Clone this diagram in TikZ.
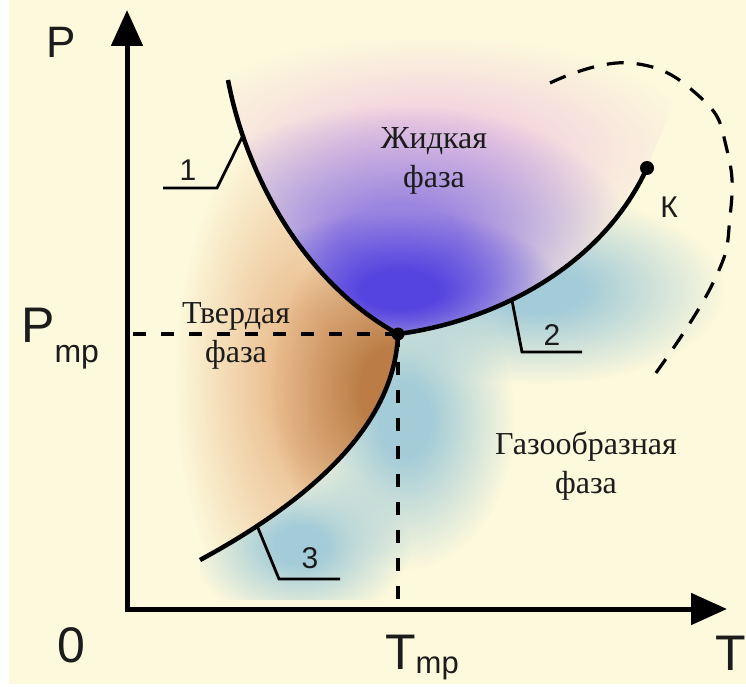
\documentclass[tikz,border=0pt]{standalone}
\usepackage{fontspec}
\setmainfont{Liberation Serif}
\setsansfont{Liberation Sans}
\usetikzlibrary{arrows.meta,fadings,positioning}

\definecolor{bgcream}{HTML}{FDF9DC}
\definecolor{liqpink}{HTML}{F2CFE0}
\definecolor{liqviolet}{HTML}{9A86E0}
\definecolor{liqblue}{HTML}{5544E0}
\definecolor{soltan}{HTML}{EBBE90}
\definecolor{solbrown}{HTML}{BB7C45}
\definecolor{gasblue}{HTML}{A4CCD8}
\definecolor{inkgray}{HTML}{1C1C1C}

\pgfdeclareradialshading{softblobshade}{\pgfpointorigin}{%
    color(0bp)=(pgftransparent!0); color(6bp)=(pgftransparent!0);
    color(25bp)=(pgftransparent!100); color(50bp)=(pgftransparent!100)}
\pgfdeclarefading{softblob}{\pgfuseshading{softblobshade}}

\begin{document}
\begin{tikzpicture}[x=1pt,y=-1pt,
    axis/.style={line width=5pt,{Triangle[length=36pt,width=31pt]}-{Triangle[length=36pt,width=31pt]}},
    curve/.style={line width=4.5pt},
    guide/.style={line width=3.5pt,dash pattern=on 13pt off 15pt},
    crit/.style={line width=3.2pt,dash pattern=on 17pt off 13pt},
    leader/.style={line width=2.8pt},
    blob/.style={path fading=softblob},
    axlbl/.style={font=\sffamily\fontsize{50}{50}\selectfont,text=inkgray,inner sep=0pt,anchor=base},
    num/.style={font=\sffamily\fontsize{30}{30}\selectfont,text=inkgray,inner sep=0pt,anchor=base},
    phase/.style={font=\fontsize{32}{39}\selectfont,text=inkgray,align=center,inner sep=0pt,anchor=base}]
    \useasboundingbox (0,0) rectangle (746,687);
    \fill[white] (0,0) rectangle (746,687);
    \fill[bgcream] (9,0) rectangle (746,684);

    % main points
    \coordinate (O) at (127,609);
    \coordinate (Ptop) at (127,10);
    \coordinate (Tend) at (727,609);
    \coordinate (TP) at (398,334);
    \coordinate (K) at (647,168);
    % melting curve (1)
    \coordinate (m0) at (228,80);
    \coordinate (m1) at (245,170);
    \coordinate (m2) at (300,280);
    % boiling curve (2)
    \coordinate (v1) at (490,322);
    \coordinate (v2) at (600,270);
    % sublimation curve (3)
    \coordinate (s0) at (200,560);
    \coordinate (s1) at (320,495);
    \coordinate (s2) at (395,420);

    % liquid phase
    \begin{scope}
        \clip (m0) .. controls (m1) and (m2) .. (TP) .. controls (v1) and (v2) .. (K)
            -- (700,40) -- (180,40) -- cycle;
        \fill[liqpink,blob] (430,150) ellipse (270pt and 115pt);
        \fill[liqviolet,blob] (400,235) ellipse (230pt and 130pt);
        \fill[liqblue,blob] (400,290) ellipse (160pt and 80pt);
    \end{scope}

    % solid phase
    \begin{scope}
        \clip (s0) .. controls (s1) and (s2) .. (TP) .. controls (m2) and (m1) .. (m0)
            -- (150,80) -- (150,600) -- cycle;
        \fill[soltan,blob] (305,380) ellipse (130pt and 270pt);
        \fill[solbrown,blob] (390,390) ellipse (120pt and 170pt);
    \end{scope}

    % gas phase
    \begin{scope}
        \clip (s0) .. controls (s1) and (s2) .. (TP) .. controls (v1) and (v2) .. (K)
            -- (746,168) -- (746,600) -- (200,600) -- cycle;
        \fill[gasblue,blob] (540,290) ellipse (185pt and 95pt);
        \fill[gasblue,blob] (405,420) ellipse (110pt and 150pt);
        \fill[gasblue,blob] (300,545) ellipse (110pt and 80pt);
    \end{scope}

    % axes
    \draw[axis] (Ptop) -- (O) -- (Tend);
    \draw[guide] (TP) -- (O |- TP);
    \draw[guide] (TP) -- (TP |- O);

    % critical region
    \draw[crit] plot[smooth,tension=0.8] coordinates
        {(550,83) (630,63) (700,97) (727,150) (730,217) (713,283) (653,377)};

    % phase curves
    \draw[curve] (m0) .. controls (m1) and (m2) .. (TP) coordinate[pos=0.2] (c1);
    \draw[curve] (TP) .. controls (v1) and (v2) .. (K) coordinate[pos=0.4] (c2);
    \draw[curve] (s0) .. controls (s1) and (s2) .. (TP) coordinate[pos=0.17] (c3);
    \fill (TP) circle (6.5pt);
    \fill (K) circle (7pt);

    % curve numbers
    \coordinate (b1) at (217,188);
    \coordinate (e1) at (163,188);
    \coordinate (b2) at (522,352);
    \coordinate (e2) at (582,352);
    \coordinate (b3) at (279,579);
    \coordinate (e3) at (340,579);
    \draw[leader] (c1) -- (b1) -- (e1);
    \draw[leader] (c2) -- (b2) -- (e2);
    \draw[leader] (c3) -- (b3) -- (e3);
    \node[num] (n1) at (188,180) {1};
    \node[num] (n2) at (552,345) {2};
    \node[num] (n3) at (310,568) {3};
    \node[num] (nK) at (669,217) {К};

    % axis labels
    \node[axlbl,font=\sffamily\fontsize{44}{44}\selectfont] (Plbl) at (61,58) {P};
    \node[axlbl,anchor=base west] (Pmp) at (21,342) {P\raisebox{-20pt}{\fontsize{32}{32}\selectfont mp}};
    \node[axlbl] (zero) at (71,662) {0};
    \node[axlbl,anchor=base west] (Tmp) at (385,669) {T\raisebox{-4pt}{\fontsize{31}{31}\selectfont mp}};
    \node[axlbl] (Tlbl) at (731,670) {T};

    % phase names
    \node[phase] (liq) at (434,187) {Жидкая\\фаза};
    \node[phase] (sol) at (236,362) {Твердая\\фаза};
    \node[phase] (gas) at (586,493) {Газообразная\\фаза};
\end{tikzpicture}
\end{document}
